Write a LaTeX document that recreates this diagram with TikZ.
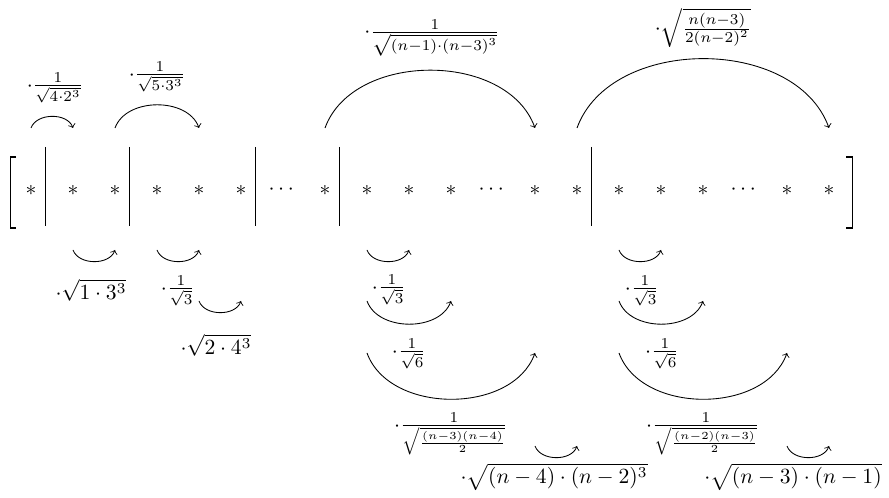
\documentclass[tikz,border=0pt]{standalone}
\usepackage{amsmath}
\usepackage{tikz}
\usetikzlibrary{calc}

\begin{document}
\begin{tikzpicture}[x=0.4625pt,y=0.4625pt,
		uparc/.style={->,out=70,in=110},
		downarc/.style={->,out=-70,in=-110}]
		\useasboundingbox (0,0) rectangle (889,498);
		
		\foreach \e [count=\i from 0] in {\ast,\ast,\ast,\ast,\ast,\ast,\cdots,\ast,\ast,\ast,\ast,\cdots,\ast,\ast,\ast,\ast,\ast,\cdots,\ast,\ast}
			\node[inner sep=1pt] (m\i) at (31+42*\i,308) {$\e$};
		\foreach \j in {0,2,5,7,13}
			\draw ($(m\j)+(14,43)$) -- ($(m\j)+(14,-36)$);
		\draw[line width=0.8pt] (16,341) -- (10.5,341) -- (10.5,270) -- (16,270);
		\draw[line width=0.8pt] (846,341) -- (852.5,341) -- (852.5,270) -- (846,270);
		
		\draw[uparc] ($(m0)+(0,62)$) to ($(m1)+(0,62)$);
		\node (t1) at (55,410) {$\cdot\frac{1}{\sqrt{4\cdot 2^3}}$};
		\draw[uparc] ($(m2)+(0,62)$) to ($(m4)+(0,62)$);
		\node (t2) at (157,421) {$\cdot\frac{1}{\sqrt{5\cdot 3^3}}$};
		\draw[uparc] ($(m7)+(0,62)$) to ($(m12)+(0,62)$);
		\node (t3) at (432,460) {$\cdot\frac{1}{\sqrt{(n-1)\cdot(n-3)^3}}$};
		\draw[uparc] ($(m13)+(0,62)$) to ($(m19)+(0,62)$);
		\node (t4) at (703,470) {$\cdot\sqrt{\frac{n(n-3)}{2(n-2)^2}}$};
		
		\draw[downarc] ($(m1)+(0,-60)$) to ($(m2)+(0,-60)$);
		\node (b1) at (91,208) {$\cdot\sqrt{1\cdot 3^3}$};
		\draw[downarc] ($(m3)+(0,-60)$) to ($(m4)+(0,-60)$);
		\node (b2) at (178,207) {$\cdot\frac{1}{\sqrt{3}}$};
		\draw[downarc] ($(m4)+(0,-111)$) to ($(m5)+(0,-111)$);
		\node (b3) at (216,153) {$\cdot\sqrt{2\cdot 4^3}$};
		
		\draw[downarc] ($(m8)+(0,-60)$) to ($(m9)+(0,-60)$);
		\node (b4) at (389,208) {$\cdot\frac{1}{\sqrt{3}}$};
		\draw[downarc] ($(m8)+(0,-111)$) to ($(m10)+(0,-111)$);
		\node (b5) at (409,144) {$\cdot\frac{1}{\sqrt{6}}$};
		\draw[downarc] ($(m8)+(0,-163)$) to ($(m12)+(0,-163)$);
		\node (b6) at (451,64) {$\cdot\frac{1}{\sqrt{\frac{(n-3)(n-4)}{2}}}$};
		\draw[downarc] ($(m12)+(0,-256)$) to ($(m13)+(0,-256)$);
		\node (b7) at (554,21) {$\cdot\sqrt{(n-4)\cdot(n-2)^3}$};
		
		\draw[downarc] ($(m14)+(0,-60)$) to ($(m15)+(0,-60)$);
		\node (b8) at (642,207) {$\cdot\frac{1}{\sqrt{3}}$};
		\draw[downarc] ($(m14)+(0,-111)$) to ($(m16)+(0,-111)$);
		\node (b9) at (662,144) {$\cdot\frac{1}{\sqrt{6}}$};
		\draw[downarc] ($(m14)+(0,-163)$) to ($(m18)+(0,-163)$);
		\node (b10) at (703,64) {$\cdot\frac{1}{\sqrt{\frac{(n-2)(n-3)}{2}}}$};
		\draw[downarc] ($(m18)+(0,-256)$) to ($(m19)+(0,-256)$);
		\node (b11) at (793,21) {$\cdot\sqrt{(n-3)\cdot(n-1)}$};
	\end{tikzpicture}
\end{document}
